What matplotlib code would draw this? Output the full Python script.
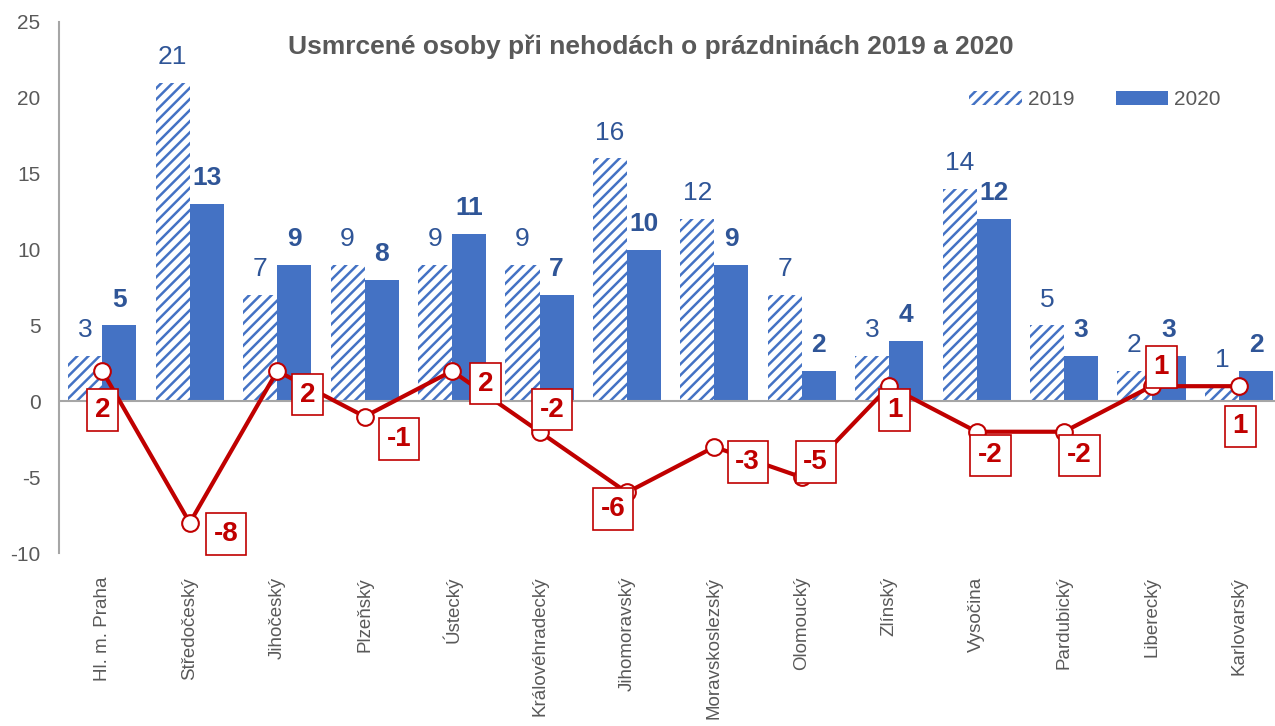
import matplotlib.pyplot as plt
import numpy as np

plt.rcParams['font.family'] = ['Liberation Sans', 'DejaVu Sans']
plt.rcParams['hatch.linewidth'] = 1.8
plt.rcParams['axes.unicode_minus'] = False

# data
kraje = ['Hl. m. Praha', 'Středočeský', 'Jihočeský', 'Plzeňský', 'Ústecký',
         'Královéhradecký', 'Jihomoravský', 'Moravskoslezský', 'Olomoucký',
         'Zlínský', 'Vysočina', 'Pardubický', 'Liberecký', 'Karlovarský']
r2019 = [3, 21, 7, 9, 9, 9, 16, 12, 7, 3, 14, 5, 2, 1]
r2020 = [5, 13, 9, 8, 11, 7, 10, 9, 2, 4, 12, 3, 3, 2]
rozdil = [b - a for a, b in zip(r2019, r2020)]

# label offsets for difference boxes (points)
off = [(0, -28), (26, -8), (22, -17), (25, -16), (24, -9), (9, 16), (-10, -12),
       (24, -11), (10, 11), (4, -17), (10, -17), (11, -17), (7, 14), (1, -29)]

blue = '#4472C4'
red = '#C00000'
grey = '#595959'
lblue = '#2F5597'

fig = plt.figure(figsize=(12.75, 7.26), dpi=100)
ax = fig.add_axes([0.046, 0.238, 0.96, 0.732])

x = np.arange(len(kraje))
w = 0.39
ax.bar(x - w / 2, r2019, w, color='white', edgecolor=blue, hatch='///',
       linewidth=0, label='2019')
ax.bar(x + w / 2, r2020, w, color=blue, linewidth=0, label='2020')

for i in range(len(x)):
    ax.annotate(str(r2019[i]), (x[i] - w / 2, r2019[i]), xytext=(0, 10),
                textcoords='offset points', ha='center', va='bottom',
                fontsize=19, color=lblue)
    ax.annotate(str(r2020[i]), (x[i] + w / 2, r2020[i]), xytext=(0, 10),
                textcoords='offset points', ha='center', va='bottom',
                fontsize=19, color=lblue, fontweight='bold')

ax.axhline(0, color='#A6A6A6', lw=1.5, zorder=1)
ax.plot(x, rozdil, color=red, lw=3, marker='o', markersize=12,
        markerfacecolor='white', markeredgecolor=red, markeredgewidth=1.5, zorder=4)

for i in range(len(x)):
    ax.annotate(str(rozdil[i]), (x[i], rozdil[i]), xytext=off[i],
                textcoords='offset points', ha='center', va='center',
                fontsize=20, color=red, fontweight='bold', zorder=5,
                bbox=dict(boxstyle='square,pad=0.28', fc='white', ec=red, lw=1.2))

ax.set_ylim(-10, 25)
ax.set_xlim(-0.5, 13.5)
ax.set_yticks(range(-10, 26, 5))
ax.set_xticks(x)
ax.set_xticklabels(kraje, rotation=90, fontsize=13.5, color=grey)
ax.tick_params(axis='y', labelsize=15, colors=grey, length=0, pad=13)
ax.tick_params(axis='x', length=0, pad=17)
for s in ['top', 'right', 'bottom']:
    ax.spines[s].set_visible(False)
ax.spines['left'].set_color('#A6A6A6')
ax.spines['left'].set_linewidth(1.5)

ax.text(0.484, 0.953, 'Usmrcené osoby při nehodách o prázdninách 2019 a 2020',
        transform=ax.transAxes, ha='center', va='center',
        fontsize=19, fontweight='bold', color=grey)
ax.legend(loc='center right', bbox_to_anchor=(0.958, 0.853), ncol=2, frameon=False,
          fontsize=15, handlelength=2.5, handleheight=0.6, columnspacing=2.0,
          labelcolor=grey, handletextpad=0.3, borderpad=0)

fig.savefig('out.png')
